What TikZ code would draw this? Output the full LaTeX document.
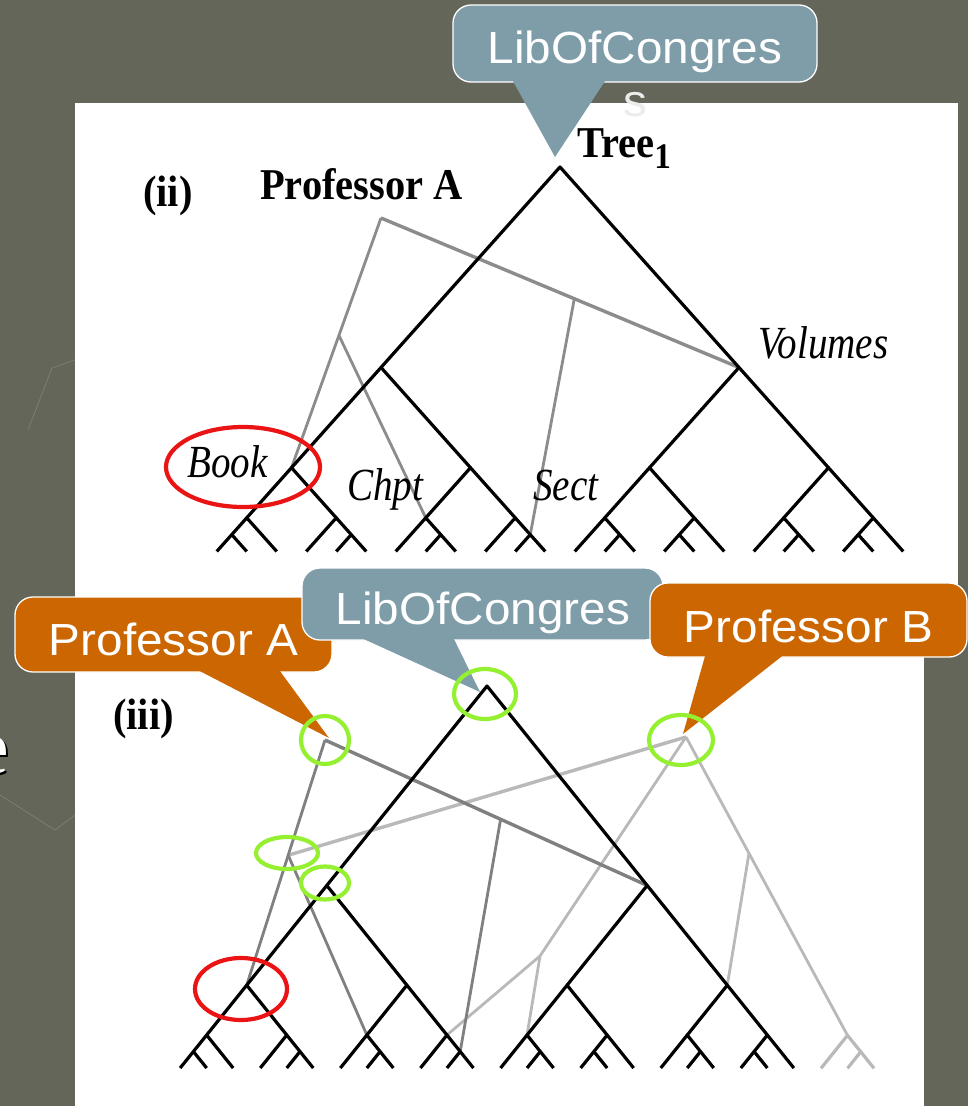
\documentclass[tikz,border=0pt]{standalone}
\usepackage{fontspec}
\setmainfont{Liberation Serif}
\newfontfamily\calloutfont[FakeStretch=1.06]{Liberation Sans}
\newfontfamily\labelfont[FakeStretch=0.92]{Liberation Serif}
\newfontfamily\partfont[FakeStretch=0.85]{Liberation Serif}
\usetikzlibrary{calc,shapes.geometric}

\definecolor{slidebg}{RGB}{101,102,90}
\definecolor{libblue}{RGB}{127,157,168}
\definecolor{proforange}{RGB}{204,102,0}
\definecolor{hitgreen}{RGB}{150,240,50}
\definecolor{missred}{RGB}{235,20,20}
\definecolor{pathii}{RGB}{140,140,140}
\definecolor{pathA}{RGB}{128,128,128}
\definecolor{pathB}{RGB}{185,185,185}

\pgfdeclarelayer{bg}
\pgfdeclarelayer{paths}
\pgfsetlayers{bg,paths,main}

% one bottom fork: apex, two leaves, and a short inner fork on one side
\newcommand{\leafgroup}[6]{% #1 name, #2 x, #3 y, #4 leaf offset, #5 slope, #6 side (-1/1)
  \coordinate (#1) at (#2,#3);
  \coordinate (#1-s) at ({#2+#6*#4/2},{#3+#4/2*#5});
  \draw ({#2-#4},{#3+#4*#5}) -- (#1) -- ({#2+#4},{#3+#4*#5});
  \draw (#1-s) -- (#2,{#3+#4*#5});
}

% full document tree: root, two volumes, four books, eight chapters
\newcommand{\drawtree}[6]{% #1 prefix, #2/#3 root, #4 spacing, #5 slope, #6 leaf offset
  \pgfmathsetmacro\ya{#3+2*#4*#5}
  \pgfmathsetmacro\yb{\ya+#4*#5}
  \pgfmathsetmacro\yc{\yb+#4/2*#5}
  \coordinate (#1-r) at (#2,#3);
  \foreach \j in {1,2}
    \coordinate (#1-a\j) at ({#2+(2*\j-3)*2*#4},\ya);
  \foreach \k in {1,...,4}
    \coordinate (#1-b\k) at ({#2+(2*\k-5)*#4},\yb);
  \foreach \i/\fk in {1/-1,2/1,3/1,4/1,5/1,6/-1,7/1,8/-1}{
    \pgfmathsetmacro\xc{#2+(2*\i-9)*#4/2}
    \leafgroup{#1-c\i}{\xc}{\yc}{#6}{#5}{\fk}
  }
  \draw (#1-a1) -- (#1-r) -- (#1-a2);
  \foreach \j in {1,2}{
    \pgfmathtruncatemacro\kl{2*\j-1}
    \pgfmathtruncatemacro\kr{2*\j}
    \draw (#1-b\kl) -- (#1-a\j) -- (#1-b\kr);
  }
  \foreach \k in {1,...,4}{
    \pgfmathtruncatemacro\il{2*\k-1}
    \pgfmathtruncatemacro\ir{2*\k}
    \draw (#1-c\il) -- (#1-b\k) -- (#1-c\ir);
  }
}

\begin{document}
\begin{tikzpicture}[x=1pt,y=-1pt]
  %----- styles
  \tikzset{
    tree/.style     ={line width=3.2pt,line join=round},
    graypath/.style ={line width=2.8pt,line join=round},
    callbox/.style  ={draw=white,line width=1.3pt,rounded corners=18pt,inner sep=0pt},
    calltext/.style ={text=white,inner sep=0pt,font=\calloutfont\fontsize{45}{50}\selectfont},
    boldlabel/.style={inner sep=0pt,font=\labelfont\bfseries\fontsize{44}{48}\selectfont},
    partlabel/.style={inner sep=0pt,font=\partfont\itshape\fontsize{46}{50}\selectfont},
    hitring/.style  ={ellipse,draw=hitgreen,line width=4.2pt,inner sep=0pt},
    missring/.style ={ellipse,draw=missred,line width=4.2pt,inner sep=0pt}
  }

  %----- slide and the two white panels
  \useasboundingbox (0,0) rectangle (968,1106);
  \begin{pgfonlayer}{bg}
    \fill[slidebg] (0,0) rectangle (968,1106);
    \draw[slidebg!85!white,line width=0.8pt] (28,430) -- (52,368) -- (75,360);
    \draw[slidebg!85!white,line width=0.8pt] (0,795) -- (55,830) -- (75,815);
    \node[anchor=base east,inner sep=0pt,text=black,font=\fontsize{78}{80}\selectfont]
      (cutS) at (11,775) {e};
    \node[anchor=base east,inner sep=0pt,text=white,font=\fontsize{78}{80}\selectfont]
      (cut) at (9,773) {e};
    \fill[white] (75,103) rectangle (958,600);
    \fill[white] (75,555) rectangle (924,1106);
  \end{pgfonlayer}

  %==================== TREE (ii) ====================
  \begin{scope}[tree]
    \drawtree{t2}{560}{167}{89.5}{1.12}{30}
  \end{scope}

  % Professor A path
  \coordinate (pa) at (381,218);
  \coordinate (pa2) at ($(pa)!0.47!(t2-b1)$);
  \coordinate (pas) at ($(pa)!0.54!(t2-a2)$);
  \begin{pgfonlayer}{paths}
    \draw[graypath,pathii,line width=3.4pt] (pa) -- (t2-a2);
    \draw[graypath,pathii] (t2-b1) -- (pa2) -- (pa);
    \draw[graypath,pathii] (pa2) -- (t2-c3);
    \draw[graypath,pathii] (pas) -- (t2-c4-s);
  \end{pgfonlayer}

  %----- labels
  \node[boldlabel,anchor=base west] (ii) at (143,206) {(ii)};
  \node[boldlabel,anchor=base west] (profA) at (260,199) {Professor A};
  \node[boldlabel,anchor=base west] (tree1) at (577,157)
    {Tree\raisebox{-11pt}{\fontsize{36}{36}\selectfont 1}};
  \node[partlabel,anchor=base west] (vol) at (758,358) {Volumes};
  \node[partlabel,anchor=base west] (book) at (187,477) {Book};
  \node[partlabel,anchor=base west] (chpt) at (347,500) {Chpt};
  \node[partlabel,anchor=base west] (sect) at (533,500) {Sect};

  \node[missring,minimum width=154pt,minimum height=80pt] (rBook) at (243,467) {};

  % top callout on the root
  \node[callbox,fill=libblue,minimum width=364pt,minimum height=77pt] (lib1) at (635,43.5) {};
  \coordinate (lib1tip) at (555,157);
  \fill[libblue] ([xshift=-122pt,yshift=1.5pt]lib1.south) -- (lib1tip)
    -- ([xshift=-30pt,yshift=1.5pt]lib1.south) -- cycle;
  \node[calltext,anchor=base] (lib1txt) at (635,63) {LibOfCongres};
  \node[calltext,anchor=base,text={rgb,255:red,236;green,236;blue,236}] (lib1more) at (635,116) {s};

  %==================== TREE (iii) ====================
  \begin{scope}[tree]
    \drawtree{t3}{487}{686}{80.1}{1.245}{26.5}
  \end{scope}
  \begin{scope}[tree,pathB]
    \leafgroup{t3-c9}{847.5}{1035.3}{26.5}{1.245}{1}
  \end{scope}

  % Professor A and Professor B paths
  \coordinate (pA) at (325,740);
  \coordinate (pA2) at ($(pA)!0.47!(t3-b1)$);
  \coordinate (pAm) at ($(pA)!0.545!(t3-a2)$);
  \coordinate (pB) at (686,737);
  \coordinate (pB2) at (540,956);
  \coordinate (pB3) at ($(pB)!0.39!(t3-c9)$);
  \begin{pgfonlayer}{paths}
    \draw[graypath,pathB,line width=3.4pt] (pB) -- (pA2);
    \draw[graypath,pathB] (t3-c4) -- (pB2) -- (pB);
    \draw[graypath,pathB] (pB2) -- (t3-c5);
    \draw[graypath,pathB] (pB) -- (pB3) -- (t3-c9);
    \draw[graypath,pathB] (pB3) -- (t3-b4);
    \draw[graypath,pathA,line width=3.4pt] (pA) -- (t3-a2);
    \draw[graypath,pathA] (t3-b1) -- (pA2) -- (pA);
    \draw[graypath,pathA] (pA2) -- (t3-c3);
    \draw[graypath,pathA] (pAm) -- (t3-c4-s);
  \end{pgfonlayer}

  \node[boldlabel,anchor=base west] (iii) at (113,729) {(iii)};

  %----- callouts
  \node[callbox,fill=proforange,minimum width=317pt,minimum height=75pt] (profAbox) at (173.5,634.5) {};
  \fill[proforange] ([xshift=26.5pt,yshift=1.5pt]profAbox.south) -- ([xshift=4pt,yshift=2pt]pA)
    -- ([xshift=106.5pt,yshift=1.5pt]profAbox.south) -- cycle;
  \node[calltext,anchor=base] (profAtxt) at (173.5,655) {Professor A};

  \node[callbox,fill=libblue,minimum width=361pt,minimum height=72pt] (lib2) at (482.5,604) {};
  \coordinate (lib2tip) at (480,692);
  \fill[libblue] ([xshift=-118.5pt,yshift=1.5pt]lib2.south) -- (lib2tip)
    -- ([xshift=-28.5pt,yshift=1.5pt]lib2.south) -- cycle;
  \node[calltext,anchor=base] (lib2txt) at (483,624.5) {LibOfCongres};

  \node[callbox,fill=proforange,minimum width=317pt,minimum height=74pt] (profBbox) at (808.5,620) {};
  \fill[proforange] ([xshift=-103.5pt,yshift=1.5pt]profBbox.south) -- ([xshift=-3pt,yshift=3pt]pB)
    -- ([xshift=-26.5pt,yshift=1.5pt]profBbox.south) -- cycle;
  \node[calltext,anchor=base] (profBtxt) at (808.5,642) {Professor B};

  %----- marked nodes
  \node[hitring,minimum width=62pt,minimum height=50pt] (gRoot) at (485,694) {};
  \node[hitring,minimum width=48pt,minimum height=48pt] (gA) at (325,740) {};
  \node[hitring,minimum width=64pt,minimum height=50pt] (gB) at (681,740) {};
  \node[hitring,minimum width=62pt,minimum height=32pt] (gMid) at (287,853) {};
  \node[hitring,minimum width=48pt,minimum height=33pt] (gSub) at (325,883) {};
  \node[missring,minimum width=92pt,minimum height=62pt] (rLeaf) at (241,989) {};
\end{tikzpicture}
\end{document}
